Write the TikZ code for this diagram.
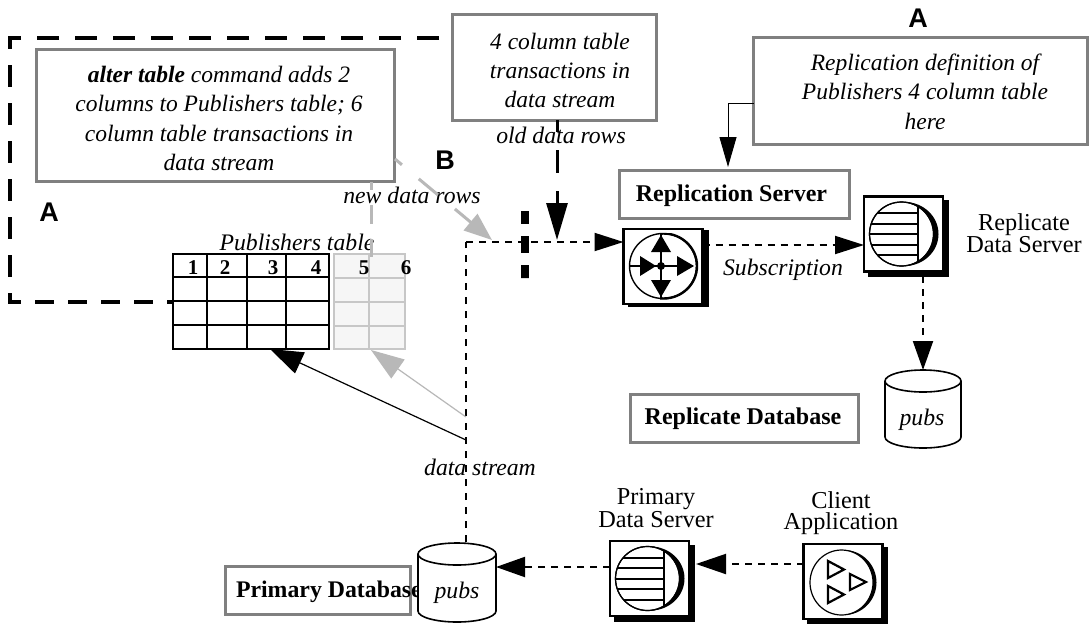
\documentclass[tikz,border=0pt]{standalone}
\usepackage{fontspec}
\setmainfont{Liberation Serif}
\newfontfamily\arialf{Liberation Sans}
\usetikzlibrary{arrows.meta}
\definecolor{boxgray}{gray}{0.5}
\definecolor{ghost}{gray}{0.72}
\definecolor{cellgray}{gray}{0.78}
\definecolor{cellfill}{gray}{0.965}
\newcommand{\shiftedtext}[3]{\raisebox{#2}[\height][\depth]{\hspace*{#1}\begin{tabular}{@{}c@{}}#3\end{tabular}}}
\tikzset{
  x=1pt,y=-1pt,
  every node/.style={inner sep=0pt,outer sep=0pt},
  graybox/.style={draw=boxgray,line width=3pt,fill=white,font=\fontsize{23.5}{29.3}\selectfont\itshape},
  boldbox/.style={draw=boxgray,line width=3pt,fill=white,font=\fontsize{24}{26}\selectfont\bfseries},
  icon/.style={draw=black,line width=2.5pt,fill=white,minimum width=79pt,minimum height=75pt},
  shadowbox/.style={fill=black,minimum width=81pt,minimum height=77pt},
  ital/.style={font=\fontsize{23.7}{25}\selectfont\itshape,anchor=base},
  plainlab/.style={font=\fontsize{24.3}{20.7}\selectfont,align=center},
  letter/.style={font=\fontsize{27}{30}\selectfont\arialf\bfseries},
  colnum/.style={font=\fontsize{21}{20}\selectfont\bfseries,anchor=base},
  dotted line/.style={line width=2pt,dash pattern=on 7pt off 6pt},
  bighead/.style={-{Triangle[length=29pt,width=18pt]}},
  ghosthead/.style={-{Triangle[length=28pt,width=21pt]}},
}
% data server icon: #1 name, #2 centre
\newcommand{\dbicon}[2]{%
  \begin{scope}[shift={#2}]
    \node[shadowbox] (#1shadow) at (5,4.5) {};
    \node[icon] (#1) at (0,0) {};
    \fill (1,0) ellipse [x radius=34pt,y radius=32pt];
    \draw[fill=white,line width=1.2pt] (-2,0) ellipse [x radius=32pt,y radius=32pt];
    \begin{scope}
      \clip (-2,0) ellipse [x radius=32pt,y radius=32pt];
      \foreach \yy in {-21,-10.5,0,10.5,21}
        \draw[line width=2pt] (-36,\yy) -- (14,\yy);
      \draw[line width=2pt] (14,-33) -- (14,33);
    \end{scope}
    \draw[line width=1.2pt] (-2,0) ellipse [x radius=32pt,y radius=32pt];
  \end{scope}}
% cylinder: #1 name, #2 left, #3 right, #4 top, #5 bottom
\newcommand{\dbcyl}[5]{%
  \pgfmathsetmacro{\rr}{(#3-#2)/2}
  \draw[line width=1.6pt,fill=white] (#2,#4+11) -- (#2,#5-11) arc[start angle=180,end angle=360,x radius=\rr pt,y radius=11pt] -- (#3,#4+11) arc[start angle=0,end angle=180,x radius=\rr pt,y radius=11pt] -- cycle;
  \draw[line width=1.6pt] (#2,#4+11) arc[start angle=180,end angle=360,x radius=\rr pt,y radius=11pt];
  \node[minimum width=#3pt-#2pt,minimum height=#5pt-#4pt] (#1) at ({(#2+#3)/2},{(#4+#5)/2}) {};}
\begin{document}
\begin{tikzpicture}
\useasboundingbox[fill=white] (0,0) rectangle (1089,624);

% dashed border A
\draw[line width=3.2pt,dash pattern=on 22pt off 16pt] (439,38) -- (10,38) -- (10,296);
\draw[line width=3.2pt,dash pattern=on 19pt off 14pt,dash phase=8pt] (10,302) -- (172,302);
\draw[line width=3.2pt] (10,293) -- (10,302) -- (21,302);

% table
\foreach \xa/\xb in {334/369,369/405}
  \foreach \ya/\yb in {254/278,278/302,302/326,326/349}
    \draw[draw=cellgray,fill=cellfill,line width=1.2pt] (\xa,\ya) rectangle (\xb,\yb);
\node[minimum width=156pt,minimum height=95pt,draw=black,line width=2.2pt] (tbl) at (251,301.5) {};
\node[minimum width=71pt,minimum height=95pt] (ghosttbl) at (369.5,301.5) {};
\foreach \xx in {207,247,286} \draw[line width=2.2pt] (\xx,254) -- (\xx,349);
\foreach \yy in {277,301,325} \draw[line width=2.4pt] (173,\yy) -- (329,\yy);
\node[ital] (pubtitle) at (297,250) {Publishers table};
\foreach \nn/\xx in {1/193,2/225,3/273,4/316,5/364,6/406}
  \node[colnum] (col\nn) at (\xx,274) {\nn};

% annotation boxes
\node[graybox,minimum width=358pt,minimum height=132pt] (alter) at (215.5,115.5) {\shiftedtext{7pt}{-5pt}{\textbf{alter table} command adds 2\\columns to Publishers table; 6\\column table transactions in\\data stream}};
\node[graybox,minimum width=204pt,minimum height=106pt] (four) at (554.5,67) {\shiftedtext{11pt}{-5.5pt}{4 column table\\transactions in\\data stream}};
\node[graybox,minimum width=334pt,minimum height=107pt] (repdef) at (920.5,90.5) {\shiftedtext{9pt}{-3.5pt}{Replication definition of\\Publishers 4 column table\\here}};
\node[boldbox,minimum width=230pt,minimum height=48pt] (rsbox) at (734,194) {\shiftedtext{0pt}{-2pt}{\hspace*{-5pt}Replication Server}};
\node[boldbox,minimum width=228pt,minimum height=48pt] (rdbbox) at (744,418) {\shiftedtext{0pt}{-1.5pt}{\hspace*{-2pt}Replicate Database}};
\node[boldbox,minimum width=185pt,minimum height=48pt] (pdbbox) at (317.5,590) {};
\node[font=\fontsize{23.8}{26}\selectfont\bfseries,anchor=west] (pdbtext) at (236,592) {Primary Database};

\node[letter] (lettera) at (49,212) {A};
\node[letter] (letterb) at (445,160) {B};
\node[letter] (letterc) at (918,18) {A};

% labels
\node[ital] (olddata) at (561,143) {old data rows};
\node[ital] (newdata) at (412,203) {new data rows};
\node[ital] (subs) at (783,275) {Subscription};
\node[ital] (dstream) at (480,475) {data stream};
\node[plainlab] (rdslab) at (1024,233) {Replicate\\Data Server};
\node[plainlab] (pdslab) at (656,508) {Primary\\Data Server};
\node[plainlab] (calab) at (841,513) {Client\\Application};

% data flow icons
\coordinate (junction) at (466,242);
\coordinate (bendtop) at (466,542);
\coordinate (oldtip) at (557,240);
\coordinate (newtip) at (492,240);
\coordinate (blkstart) at (466,440);
\coordinate (grystart) at (466,417);
\coordinate (blktip) at (270,349);
\coordinate (grytip) at (371,350);
\coordinate (ghostfrom) at (395,159);
\coordinate (ghostdown) at (371,182);
\coordinate (ghostend) at (371,257);
\coordinate (bend) at (728,103);

% router icon
\node[shadowbox] (routershadow) at (668,268.5) {};
\node[icon] (router) at (663,266.5) {};
\draw[line width=1.4pt] (663,266) ellipse [x radius=33.5pt,y radius=32.5pt];
\begin{scope}
  \clip (660,233) rectangle (700,299);
  \draw[line width=2.4pt] (663.5,266) ellipse [x radius=33.5pt,y radius=32.5pt];
\end{scope}
\draw[line width=2pt] (630,266) -- (693,266);
\draw[line width=2pt] (661,235) -- (661,297);
\fill (661,235) -- (671,252) -- (651,252) -- cycle;
\fill (661,297) -- (671,280) -- (651,280) -- cycle;
\fill (656,266) -- (640,256) -- (640,276) -- cycle;
\fill (694,266) -- (677,256) -- (677,276) -- cycle;
\fill (661,266) circle (4pt);

\dbicon{rds}{(903.5,234)}
\dbicon{pds}{(649.5,578.5)}

% client icon
\node[shadowbox] (clientshadow) at (847.5,585.5) {};
\node[icon] (client) at (843,581.5) {};
\fill (844,582.5) ellipse [x radius=32.5pt,y radius=32.5pt];
\draw[fill=white,line width=1.2pt] (841.5,582.5) ellipse [x radius=31.5pt,y radius=32.5pt];
\draw[line width=2.2pt,fill=white] (828,561) -- (844,569.5) -- (828,578) -- cycle;
\draw[line width=2.2pt,fill=white] (850,574) -- (866,582) -- (850,590) -- cycle;
\draw[line width=2.2pt,fill=white] (828,586) -- (844,594.5) -- (828,603) -- cycle;

% cylinders
\dbcyl{pubsrep}{885}{961}{370}{448}
\node[ital] (pubsa) at (922,425) {pubs};
\dbcyl{pubspri}{418}{496}{543}{622}
\node[ital] (pubsb) at (457,598) {pubs};

% thick break mark
\draw[line width=8pt,dash pattern=on 13pt off 12pt on 17pt off 12pt on 13pt off 0pt] (525,211) -- (525,278);

% connectors
\draw[dotted line,dash pattern=on 7pt off 7pt] (bendtop) -- (junction);
\draw[dotted line,bighead] (junction) -- (router.west |- junction);
\draw[dotted line,bighead] (router.east |- 0,245) -- (rds.west |- 0,245);
\draw[dotted line,-{Triangle[length=29pt,width=20pt]}] (923,276) -- (pubsrep.north -| 923,0);
\draw[dotted line,-{Triangle[length=29pt,width=20pt]}] (pds.west |- 0,567) -- (pubspri.east |- 0,567);
\draw[dotted line,-{Triangle[length=30pt,width=20pt]}] (client.west |- 0,564) -- (696,564);
\draw[line width=3pt,dash pattern=on 23pt off 18pt,dash phase=11pt,-{Triangle[length=37pt,width=21pt]}] (557,120) -- (oldtip);
\draw[line width=1pt,-{Triangle[length=30pt,width=17pt]}] (repdef.west |- bend) -| (728,167);
\draw[line width=1.2pt,-{Triangle[length=33pt,width=23pt]}] (blkstart) -- (blktip);
\draw[ghost,line width=1.2pt,-{Triangle[length=33pt,width=23pt]}] (grystart) -- (grytip);
\draw[ghost,line width=3pt,dash pattern=on 25pt off 22pt,dash phase=16pt,ghosthead] (ghostfrom) -- (newtip);
\draw[ghost,line width=3pt,dash pattern=on 19pt off 15pt,dash phase=11pt] (ghostdown) -- (ghostend);
\end{tikzpicture}
\end{document}
